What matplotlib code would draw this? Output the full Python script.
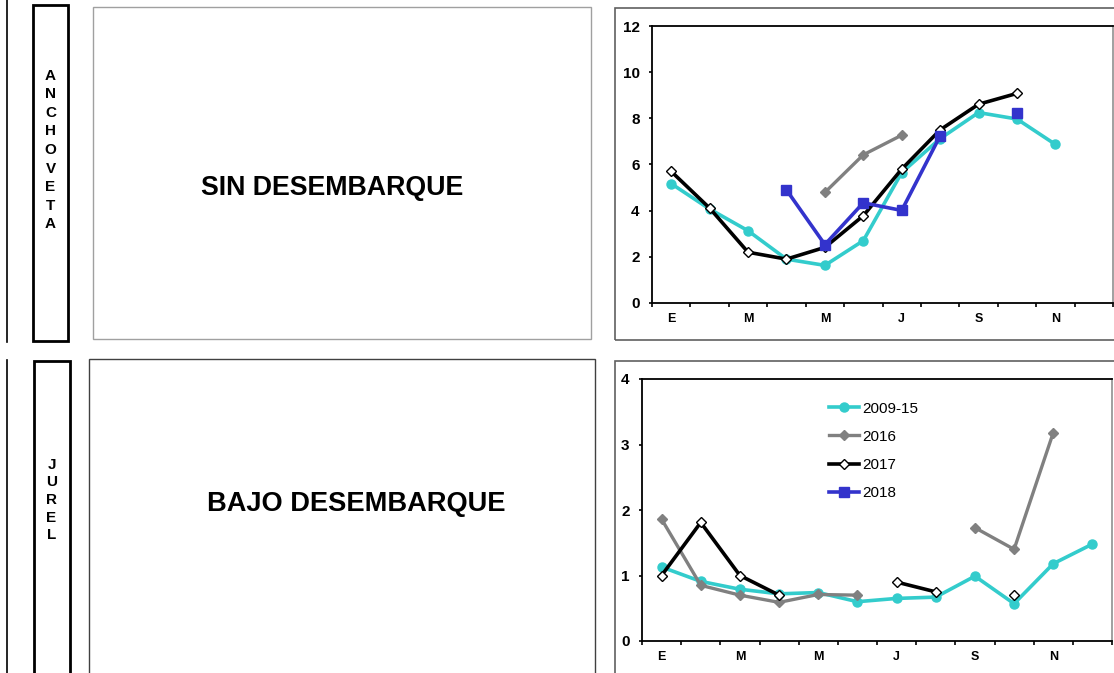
import numpy as np
import matplotlib
matplotlib.use("Agg")
import matplotlib.pyplot as plt
from matplotlib.patches import Rectangle

plt.rcParams['font.family'] = ['Liberation Sans', 'DejaVu Sans']

W, H = 1114, 673

# month labels (only every other one is shown)
months = ["E", "F", "M", "A", "M", "J", "J", "A", "S", "O", "N", "D"]
series = ["2009-15", "2016", "2017", "2018"]

# anchoveta
anc_0915 = [5.17, 4.07, 3.13, 1.9, 1.63, 2.7, 5.65, 7.12, 8.25, 7.97, 6.87, None]
anc_2016 = [None, None, None, None, 4.79, 6.42, 7.27, None, None, None, None, None]
anc_2017 = [5.7, 4.11, 2.2, 1.9, 2.41, 3.78, 5.8, 7.5, 8.61, 9.08, None, None]
anc_2018 = [None, None, None, 4.9, 2.53, 4.34, 4.01, 7.24, None, 8.22, None, None]

# jurel
jur_0915 = [1.13, 0.91, 0.79, 0.72, 0.74, 0.6, 0.65, 0.67, 0.99, 0.57, 1.18, 1.48]
jur_2016 = [1.86, 0.85, 0.7, 0.59, 0.71, 0.7, None, None, 1.73, 1.4, 3.18, None]
jur_2017 = [1.0, 1.81, 1.0, 0.7, None, None, 0.9, 0.75, None, 0.7, None, None]
jur_2018 = [None] * 12

styles = [
    dict(color="#33CCCC", marker="o", ms=6.5, mfc="#33CCCC", mec="#33CCCC", lw=2.6),
    dict(color="#808080", marker="D", ms=5, mfc="#808080", mec="#808080", lw=2.4),
    dict(color="black", marker="D", ms=5.5, mfc="white", mec="black", mew=1.0, lw=2.6),
    dict(color="#3333CC", marker="s", ms=7, mfc="#3333CC", mec="#3333CC", lw=2.6),
]


def px(x0, y0, x1, y1):
    return [x0 / W, 1 - y1 / H, (x1 - x0) / W, (y1 - y0) / H]


def box(fig, x0, y0, x1, y1, color, lw):
    fig.patches.append(Rectangle((x0 / W, 1 - y1 / H), (x1 - x0) / W, (y1 - y0) / H,
                                 transform=fig.transFigure, fill=False,
                                 edgecolor=color, linewidth=lw))


def arr(v):
    return np.array([np.nan if a is None else a for a in v], dtype=float)


def chart(ax, data, ymax, step):
    x = np.arange(12)
    for d, st, lab in zip(data, styles, series):
        ax.plot(x, arr(d), label=lab, **st)
    ax.set_xlim(-0.5, 11.5)
    ax.set_ylim(0, ymax)
    ax.set_yticks(np.arange(0, ymax + 0.01, step))
    ax.set_xticks(np.arange(-0.5, 12, 1))
    ax.set_xticklabels([])
    ax.set_xticks(np.arange(0, 12, 2), minor=True)
    ax.set_xticklabels(months[::2], minor=True, fontsize=9, fontweight="bold")
    ax.tick_params(axis="x", which="minor", length=0, pad=7)
    ax.tick_params(axis="x", which="major", length=3, width=1.2, direction="out")
    ax.tick_params(axis="y", length=2, width=1.2, direction="out", labelsize=11, pad=7)
    for t in ax.get_yticklabels():
        t.set_fontweight("bold")
    for s in ax.spines.values():
        s.set_linewidth(1.3)
        s.set_color("black")
    ax.spines["right"].set_color("#909090")
    ax.spines["right"].set_linewidth(1.2)


fig = plt.figure(figsize=(W / 100, H / 100), dpi=100)

# left frame lines and species boxes
fig.add_artist(plt.Line2D([7 / W, 7 / W], [1 - 0 / H, 1 - 342 / H], color="black", lw=1.2))
fig.add_artist(plt.Line2D([7 / W, 7 / W], [1 - 360 / H, 0], color="black", lw=1.2))
box(fig, 33, 5, 68, 341, "black", 2.0)
box(fig, 34, 361, 70, 680, "black", 2.0)
fig.text(50.5 / W, 1 - 150 / H, "\n".join("ANCHOVETA"), ha="center", va="center",
         fontsize=11, fontweight="bold", linespacing=1.42)
fig.text(51.5 / W, 1 - 500 / H, "\n".join("JUREL"), ha="center", va="center",
         fontsize=11, fontweight="bold", linespacing=1.34)

# description boxes
box(fig, 93, 7, 591, 339, "#A0A0A0", 1.0)
box(fig, 89, 359, 595, 680, "#404040", 1.0)
fig.text(332 / W, 1 - 188 / H, "SIN DESEMBARQUE", ha="center", va="center",
         fontsize=19.3, fontweight="bold")
fig.text(356 / W, 1 - 504 / H, "BAJO DESEMBARQUE", ha="center", va="center",
         fontsize=19.6, fontweight="bold")

# chart boxes
box(fig, 615, 8, 1120, 340, "#606060", 1.2)
box(fig, 615, 361, 1120, 680, "#606060", 1.2)

ax1 = fig.add_axes(px(652, 26, 1113, 303))
chart(ax1, [anc_0915, anc_2016, anc_2017, anc_2018], 12, 2)

ax2 = fig.add_axes(px(642, 379, 1112, 641))
chart(ax2, [jur_0915, jur_2016, jur_2017, jur_2018], 4, 1)
ax2.legend(loc="upper left", bbox_to_anchor=(815 / W, 1 - 388 / H),
           bbox_transform=fig.transFigure, frameon=False, fontsize=11,
           handlelength=2.0, handletextpad=0.2, labelspacing=0.92)

fig.savefig("out.png", dpi=100)
